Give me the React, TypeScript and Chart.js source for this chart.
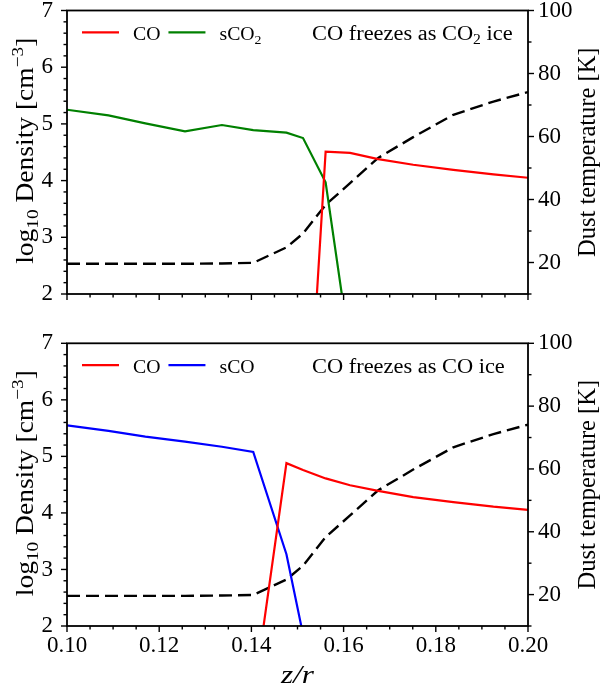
import React, { useEffect, useRef } from "react";
import { Chart, registerables } from "chart.js";

Chart.register(...registerables);

// ---- data ----
const zr = [0.1, 0.109, 0.117, 0.1256, 0.1336, 0.1404, 0.1476, 0.1512, 0.1561, 0.1614, 0.1675, 0.1751, 0.1838, 0.1925, 0.2];
const dustTemperature = [19.6, 19.6, 19.6, 19.6, 19.7, 19.9, 24.8, 29.2, 38.3, 45.2, 53.2, 59.8, 66.9, 71.1, 74.1];
const coTop = [null, null, null, null, null, null, null, -2.0, 4.51, 4.49, 4.38, 4.28, 4.19, 4.11, 4.05];
const sco2Top = [5.25, 5.15, 5.01, 4.87, 4.98, 4.89, 4.845, 4.75, 3.97, 0.99, null, null, null, null, null];
const coBottom = [null, null, null, null, null, 0.7, 4.88, 4.76, 4.61, 4.49, 4.39, 4.28, 4.19, 4.11, 4.055];
const scoBottom = [5.55, 5.45, 5.35, 5.26, 5.17, 5.08, 3.27, 1.85, null, null, null, null, null, null, null];

const xTicks = [0.1, 0.12, 0.14, 0.16, 0.18, 0.2];
const densityTicks = [2, 3, 4, 5, 6, 7];
const tempTicks = [20, 40, 60, 80, 100];

const topNote = "CO freezes as CO_{2} ice";
const bottomNote = "CO freezes as CO ice";
const densityTitle = "log_{10} Density [cm^{\u22123}]";
const tempTitle = "Dust temperature [K]";
const xTitle = "z/r";

const FONT = '"Liberation Serif", "Times New Roman", serif';

type Seg = { t: string; k: number };
function richSegs(s: string): Seg[] {
  const out: Seg[] = [];
  const re = /([_^])\{([^}]*)\}/g;
  let last = 0;
  let m: RegExpExecArray | null;
  while ((m = re.exec(s))) {
    if (m.index > last) out.push({ t: s.slice(last, m.index), k: 0 });
    out.push({ t: m[2], k: m[1] === "_" ? 1 : -1 });
    last = re.lastIndex;
  }
  if (last < s.length) out.push({ t: s.slice(last), k: 0 });
  return out;
}

// draws text with _{sub} / ^{sup}; stretch widens horizontally (Computer Modern is wider than Times)
function drawRich(ctx: CanvasRenderingContext2D, s: string, x: number, y: number, size: number, align: string, italic = false, stretch = 1) {
  const segs = richSegs(s);
  const f = (k: number) => `${italic ? "italic " : ""}${k === 0 ? size : Math.round(size * 7) / 10}px ${FONT}`;
  let w = 0;
  const widths = segs.map((sg) => {
    ctx.font = f(sg.k);
    const ww = ctx.measureText(sg.t).width;
    w += ww;
    return ww;
  });
  const W = w * stretch;
  const x0 = align === "center" ? x - W / 2 : align === "right" ? x - W : x;
  ctx.save();
  ctx.translate(x0, y);
  ctx.scale(stretch, 1);
  ctx.textAlign = "left";
  ctx.textBaseline = "alphabetic";
  let cx = 0;
  segs.forEach((sg, i) => {
    ctx.font = f(sg.k);
    const dy = sg.k === 1 ? size * 0.2 : sg.k === -1 ? -size * 0.4 : 0;
    ctx.fillText(sg.t, cx, dy);
    cx += widths[i];
  });
  ctx.restore();
  return W;
}

const panelPlugin = {
  id: "panel",
  afterDraw(chart: any, _args: any, opts: any) {
    const { ctx, chartArea: a, scales } = chart;
    const sx = scales.x, sy = scales.y, sy2 = scales.y2;
    ctx.save();
    ctx.setLineDash([]);
    ctx.strokeStyle = "#000";
    ctx.fillStyle = "#000";
    const line = (x1: number, y1: number, x2: number, y2: number) => {
      ctx.beginPath();
      ctx.moveTo(x1, y1);
      ctx.lineTo(x2, y2);
      ctx.stroke();
    };
    ctx.lineWidth = 1.4;
    // x ticks (major + 3 minor between)
    const xStep = (xTicks[1] - xTicks[0]) / 4;
    for (let i = 0; i <= (xTicks.length - 1) * 4; i++) {
      const px = sx.getPixelForValue(xTicks[0] + i * xStep);
      line(px, a.bottom, px, a.bottom + (i % 4 === 0 ? 6 : 3.5));
    }
    // left density ticks (minor every 0.2)
    const dStep = (densityTicks[1] - densityTicks[0]) / 5;
    for (let i = 0; i <= (densityTicks.length - 1) * 5; i++) {
      const py = sy.getPixelForValue(densityTicks[0] + i * dStep);
      line(a.left, py, a.left - (i % 5 === 0 ? 6 : 3.5), py);
    }
    // right temperature ticks (minor halfway)
    const tStep = (tempTicks[1] - tempTicks[0]) / 2;
    for (let v = tempTicks[0] - tStep; v <= tempTicks[tempTicks.length - 1] + 0.01; v += tStep) {
      const py = sy2.getPixelForValue(v);
      const major = tempTicks.some((t) => Math.abs(t - v) < 1e-6);
      line(a.right, py, a.right + (major ? 6 : 3.5), py);
    }
    // frame
    ctx.lineWidth = 1.8;
    ctx.strokeRect(a.left, a.top, a.right - a.left, a.bottom - a.top);

    // legend
    let lx = a.left + 15;
    const ly = a.top + 21.8;
    chart.data.datasets.forEach((ds: any) => {
      if (ds.yAxisID !== "y") return;
      ctx.strokeStyle = ds.borderColor;
      ctx.lineWidth = 2.2;
      line(lx, ly, lx + 37, ly);
      ctx.fillStyle = "#000";
      const w = drawRich(ctx, ds.label, lx + 51, a.top + 29.3, 19, "left", false, 1.04);
      lx += 51 + w + 8;
    });
    // note
    ctx.fillStyle = "#000";
    drawRich(ctx, opts.note, a.left + 245, a.top + 29.2, 20, "left", false, 1.12);

    // axis titles
    const cy = (a.top + a.bottom) / 2;
    ctx.save();
    ctx.translate(33.3, cy - 1.5);
    ctx.rotate(-Math.PI / 2);
    drawRich(ctx, densityTitle, 0, 0, 25, "center", false, 1.1);
    ctx.restore();
    ctx.save();
    ctx.translate(595, cy);
    ctx.rotate(-Math.PI / 2);
    drawRich(ctx, tempTitle, 0, 0, 25, "center", false, 0.98);
    ctx.restore();
    if (opts.showXTitle) {
      drawRich(ctx, xTitle, (a.left + a.right) / 2, a.bottom + 57, 26, "center", true, 1.2);
    }
    ctx.restore();
  },
};

function makeChart(canvas: HTMLCanvasElement, top: boolean) {
  const co = top ? coTop : coBottom;
  const ice = top ? sco2Top : scoBottom;
  const pts = (arr: (number | null)[]) => zr.map((x, i) => ({ x, y: arr[i] }));
  const tickFont = { family: FONT, size: 23 };
  return new Chart(canvas, {
    type: "line",
    data: {
      datasets: [
        { label: "CO", data: pts(co), borderColor: "#ff0000", yAxisID: "y" },
        { label: top ? "sCO_{2}" : "sCO", data: pts(ice), borderColor: top ? "#008000" : "#0000ff", yAxisID: "y" },
        { label: "T_dust", data: pts(dustTemperature), borderColor: "#000000", borderDash: [13, 6], borderWidth: 2.4, yAxisID: "y2" },
      ],
    } as any,
    options: {
      responsive: false,
      animation: false,
      devicePixelRatio: 1,
      layout: { padding: { top: top ? 10.5 : 33.3, left: 0, right: 0, bottom: 0 } },
      elements: { point: { radius: 0 }, line: { borderWidth: 2.2, tension: 0 } },
      plugins: {
        legend: { display: false },
        tooltip: { enabled: false },
        panel: { note: top ? topNote : bottomNote, showXTitle: !top },
      } as any,
      scales: {
        x: {
          type: "linear",
          min: xTicks[0],
          max: xTicks[xTicks.length - 1],
          grid: { display: false, drawTicks: false },
          border: { display: false },
          afterBuildTicks: (s: any) => {
            s.ticks = xTicks.map((v) => ({ value: v }));
          },
          ticks: {
            display: !top,
            padding: 6,
            autoSkip: false,
            maxRotation: 0,
            color: "#000",
            font: tickFont,
            callback: (v: any) => Number(v).toFixed(2),
          },
          afterFit: (s: any) => {
            s.height = top ? 16 : 62;
            s.paddingLeft = 0;
            s.paddingRight = 0;
          },
        },
        y: {
          type: "linear",
          position: "left",
          min: densityTicks[0],
          max: densityTicks[densityTicks.length - 1],
          grid: { display: false, drawTicks: false },
          border: { display: false },
          afterBuildTicks: (s: any) => {
            s.ticks = densityTicks.map((v) => ({ value: v }));
          },
          ticks: { padding: 14, autoSkip: false, color: "#000", font: tickFont, callback: (v: any) => String(v) },
          afterFit: (s: any) => {
            s.width = 67;
            s.paddingTop = 0;
            s.paddingBottom = 0;
          },
        },
        y2: {
          type: "linear",
          position: "right",
          min: 10,
          max: 100,
          grid: { display: false, drawTicks: false },
          border: { display: false },
          afterBuildTicks: (s: any) => {
            s.ticks = tempTicks.map((v) => ({ value: v }));
          },
          ticks: { padding: 10, autoSkip: false, color: "#000", font: tickFont, callback: (v: any) => String(v) },
          afterFit: (s: any) => {
            s.width = 74;
            s.paddingTop = 0;
            s.paddingBottom = 0;
          },
        },
      },
    } as any,
    plugins: [panelPlugin as any],
  });
}

export default function App() {
  const r1 = useRef<HTMLCanvasElement>(null);
  const r2 = useRef<HTMLCanvasElement>(null);
  useEffect(() => {
    const c1 = makeChart(r1.current as HTMLCanvasElement, true);
    const c2 = makeChart(r2.current as HTMLCanvasElement, false);
    return () => {
      c1.destroy();
      c2.destroy();
    };
  }, []);
  return (
    <div style={{ position: "absolute", left: 0, top: 0, width: 602, height: 688, background: "#fff" }}>
      <canvas ref={r1} width={602} height={310} style={{ position: "absolute", left: 0, top: 0, width: 602, height: 310 }} />
      <canvas ref={r2} width={602} height={378} style={{ position: "absolute", left: 0, top: 310, width: 602, height: 378 }} />
    </div>
  );
}
